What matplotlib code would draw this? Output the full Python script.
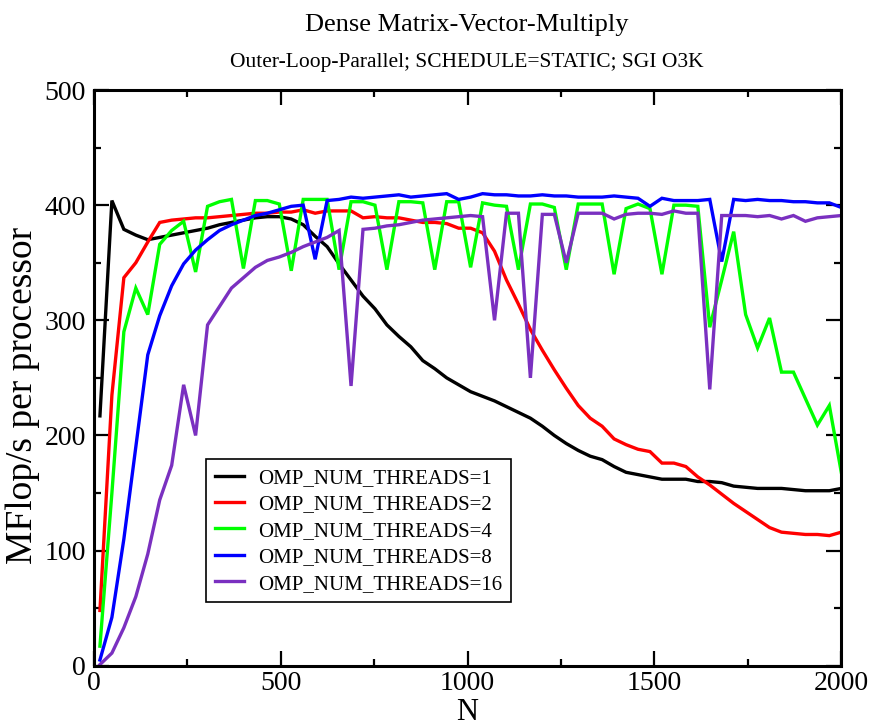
import matplotlib
matplotlib.use("Agg")
import matplotlib.pyplot as plt
from matplotlib.ticker import MultipleLocator

plt.rcParams['font.family'] = ['Liberation Serif', 'DejaVu Serif']

# Matrix sizes N
n_values = [16, 48, 80, 112, 144, 176, 208, 240, 272, 304, 336, 368, 400, 432,
            464, 496, 528, 560, 592, 624, 656, 688, 720, 752, 784, 816, 848,
            880, 912, 944, 976, 1008, 1040, 1072, 1104, 1136, 1168, 1200, 1232,
            1264, 1296, 1328, 1360, 1392, 1424, 1456, 1488, 1520, 1552, 1584,
            1616, 1648, 1680, 1712, 1744, 1776, 1808, 1840, 1872, 1904, 1936,
            1968, 2000]

# MFlop/s per processor for each thread count
threads_1 = [217, 404, 379, 374, 370, 372, 374, 376, 378, 380, 383, 385, 387,
             389, 390, 390, 388, 383, 373, 364, 349, 335, 321, 310, 296, 286,
             277, 265, 258, 250, 244, 238, 234, 230, 225, 220, 215, 208, 200,
             193, 187, 182, 179, 173, 168, 166, 164, 162, 162, 162, 160, 160,
             159, 156, 155, 154, 154, 154, 153, 152, 152, 152, 154]
threads_2 = [48, 235, 337, 350, 368, 385, 387, 388, 389, 389, 390, 391, 392,
             393, 393, 394, 394, 396, 393, 395, 395, 395, 389, 390, 389, 389,
             387, 385, 385, 384, 380, 380, 376, 360, 335, 314, 292, 274, 257,
             241, 226, 215, 208, 197, 192, 188, 186, 176, 176, 173, 164, 157,
             149, 141, 134, 127, 120, 116, 115, 114, 114, 113, 116]
threads_4 = [17, 150, 290, 328, 305, 366, 378, 386, 342, 399, 403, 405, 345,
             404, 404, 401, 343, 405, 405, 405, 344, 403, 403, 400, 344, 403,
             403, 402, 344, 403, 403, 346, 402, 400, 399, 344, 401, 401, 398,
             344, 401, 401, 401, 340, 397, 401, 397, 340, 400, 400, 399, 294,
             335, 377, 305, 276, 302, 255, 255, 232, 209, 226, 168]
threads_8 = [5, 42, 110, 190, 270, 304, 330, 349, 361, 370, 378, 383, 387,
             391, 393, 396, 399, 400, 353, 404, 405, 407, 406, 407, 408, 409,
             407, 408, 409, 410, 405, 407, 410, 409, 409, 408, 408, 409, 408,
             408, 407, 407, 407, 408, 407, 406, 399, 406, 404, 404, 404, 405,
             351, 405, 404, 405, 404, 404, 403, 403, 402, 402, 398]
threads_16 = [1, 11, 33, 60, 97, 144, 174, 244, 200, 296, 312, 328, 337, 346,
              352, 355, 359, 364, 368, 372, 378, 243, 379, 380, 382, 383, 385,
              387, 388, 389, 390, 391, 390, 300, 393, 393, 250, 392, 392, 350,
              393, 393, 393, 388, 392, 393, 393, 392, 395, 393, 393, 240, 391,
              391, 391, 390, 391, 388, 391, 386, 389, 390, 391]

series = [
    ("OMP_NUM_THREADS=1", threads_1, "#000000"),
    ("OMP_NUM_THREADS=2", threads_2, "#ff0000"),
    ("OMP_NUM_THREADS=4", threads_4, "#00ff00"),
    ("OMP_NUM_THREADS=8", threads_8, "#0000ff"),
    ("OMP_NUM_THREADS=16", threads_16, "#7a30c0"),
]

fig = plt.figure(figsize=(8.7, 7.26), dpi=100)
ax = fig.add_axes([0.108, 0.083, 0.859, 0.793])

for label, values, color in series:
    ax.plot(n_values, values, color=color, lw=2.4, label=label,
            solid_joinstyle='miter')

ax.set_xlim(0, 2000)
ax.set_ylim(0, 500)
ax.xaxis.set_major_locator(MultipleLocator(500))
ax.xaxis.set_minor_locator(MultipleLocator(250))
ax.yaxis.set_major_locator(MultipleLocator(100))
ax.yaxis.set_minor_locator(MultipleLocator(50))
ax.tick_params(which='both', direction='in', top=True, right=True,
               labelsize=20, width=1.6)
ax.tick_params(axis='x', pad=4)
ax.tick_params(axis='y', pad=6)
ax.tick_params(which='major', length=11)
ax.tick_params(which='minor', length=5)
for spine in ax.spines.values():
    spine.set_linewidth(2.2)

ax.set_ylabel("MFlop/s per processor", fontsize=27)
ax.yaxis.set_label_coords(-0.072, 0.469)
fig.text(0.5365, 0.019, "N", ha='center', va='center', fontsize=22)

fig.text(0.5365, 0.966, "Dense Matrix-Vector-Multiply", ha='center',
         va='center', fontsize=19)
fig.text(0.5365, 0.914, "Outer-Loop-Parallel; SCHEDULE=STATIC; SGI O3K",
         ha='center', va='center', fontsize=15.5)

leg = ax.legend(loc='lower left', bbox_to_anchor=(0.150, 0.110),
                borderaxespad=0, fontsize=15, frameon=True, fancybox=False,
                framealpha=1, edgecolor='black', handlelength=1.4,
                handletextpad=0.7, labelspacing=0.33, borderpad=0.42)
leg.get_frame().set_linewidth(1.2)

fig.savefig("out.png", dpi=100)
